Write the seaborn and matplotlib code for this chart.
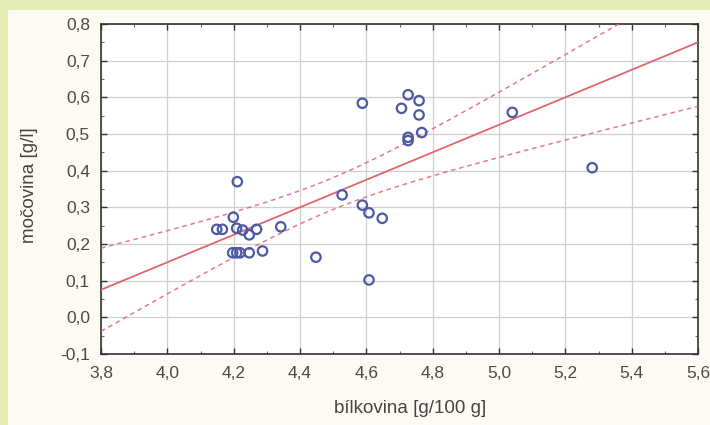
import numpy as np
import pandas as pd
import matplotlib
matplotlib.use("Agg")
import matplotlib.pyplot as plt
from matplotlib.patches import Rectangle
from matplotlib.ticker import MultipleLocator, FuncFormatter
import seaborn as sns

# ---- data ----
bilkovina = [4.211, 4.199, 4.149, 4.166, 4.209, 4.227, 4.247, 4.269,
             4.197, 4.209, 4.219, 4.247, 4.287, 4.342, 4.527, 4.448,
             4.588, 4.726, 4.759, 4.706, 4.759, 4.767, 4.726, 4.726,
             4.588, 4.608, 4.648, 4.608, 5.040, 5.281]
mocovina = [0.370, 0.273, 0.240, 0.240, 0.243, 0.238, 0.225, 0.240,
            0.176, 0.176, 0.176, 0.176, 0.181, 0.247, 0.334, 0.164,
            0.584, 0.607, 0.591, 0.570, 0.552, 0.504, 0.491, 0.482,
            0.306, 0.285, 0.270, 0.102, 0.559, 0.408]
x_ticks = [3.8, 4.0, 4.2, 4.4, 4.6, 4.8, 5.0, 5.2, 5.4, 5.6]
y_ticks = [-0.1, 0.0, 0.1, 0.2, 0.3, 0.4, 0.5, 0.6, 0.7, 0.8]
x_label = "bílkovina [g/100 g]"
y_label = "močovina [g/l]"

df = pd.DataFrame({"x": bilkovina, "y": mocovina})

sns.set_theme(style="white")
plt.rcParams["font.family"] = ["Liberation Sans", "DejaVu Sans"]

W, H = 710, 425
fig = plt.figure(figsize=(W / 100, H / 100), dpi=100)
fig.patch.set_facecolor("#e4edb6")
panel = Rectangle((8 / W, 0), 1 - 8 / W, 1 - 10 / H,
                  transform=fig.transFigure, facecolor="#fcfaf3",
                  edgecolor="none", zorder=-10)
fig.add_artist(panel)

ax = fig.add_axes([101 / W, 1 - 354 / H, (698 - 101) / W, (354 - 24) / H])
ax.set_zorder(5)
ax.set_facecolor("white")

# regression fit and 95% confidence band of the mean
x = np.asarray(bilkovina)
y = np.asarray(mocovina)
n = len(x)
b1, b0 = np.polyfit(x, y, 1)
xs = np.linspace(x_ticks[0], x_ticks[-1], 200)
yhat = b0 + b1 * xs
resid = y - (b0 + b1 * x)
s = np.sqrt(np.sum(resid ** 2) / (n - 2))
sxx = np.sum((x - x.mean()) ** 2)
tval = 2.048  # t(0.975, 28)
se = s * np.sqrt(1 / n + (xs - x.mean()) ** 2 / sxx)
fit = pd.DataFrame({"x": xs, "fit": yhat, "lo": yhat - tval * se, "hi": yhat + tval * se})

red = "#e2646e"
sns.lineplot(data=fit, x="x", y="fit", ax=ax, color=red, lw=1.3, zorder=3)
sns.lineplot(data=fit, x="x", y="lo", ax=ax, color=red, lw=1.1, ls=(0, (3, 2.5)), alpha=0.85, zorder=3)
sns.lineplot(data=fit, x="x", y="hi", ax=ax, color=red, lw=1.1, ls=(0, (3, 2.5)), alpha=0.85, zorder=3)

sns.scatterplot(data=df, x="x", y="y", ax=ax, marker="o", s=46,
                facecolors="none", edgecolor="#4b5aa3", linewidth=1.6, zorder=4)

ax.set_xlim(x_ticks[0], x_ticks[-1])
ax.set_ylim(y_ticks[0], y_ticks[-1])
ax.set_xticks(x_ticks)
ax.set_yticks(y_ticks)
fmt = FuncFormatter(lambda v, p: f"{v:.1f}".replace(".", ",").replace("-0,0", "0,0"))
ax.xaxis.set_major_formatter(fmt)
ax.yaxis.set_major_formatter(fmt)
ax.xaxis.set_minor_locator(MultipleLocator(0.1))
ax.yaxis.set_minor_locator(MultipleLocator(0.05))
ax.tick_params(which="major", direction="in", length=4, width=1, color="#333333",
               top=True, right=True, bottom=True, left=True,
               labelsize=12.5, labelcolor="#4a4a4a")
ax.tick_params(axis="y", which="major", pad=8)
ax.tick_params(axis="x", which="major", pad=9)
ax.tick_params(which="minor", direction="in", length=2, width=0.8, color="#666666",
               top=True, right=True, bottom=True, left=True)
ax.grid(True, which="major", color="#cfcfcf", lw=0.9)
for sp in ax.spines.values():
    sp.set_color("#333333")
    sp.set_linewidth(1.2)

ax.set_xlabel(x_label, fontsize=13.5, color="#444444")
ax.set_ylabel(y_label, fontsize=13.5, color="#444444")
ax.xaxis.set_label_coords((410 - 101) / 597, (354 - 400) / 330)
ax.yaxis.set_label_coords((38 - 101) / 597, (354 - 185) / 330)

fig.savefig("out.png", dpi=100, facecolor=fig.get_facecolor())
